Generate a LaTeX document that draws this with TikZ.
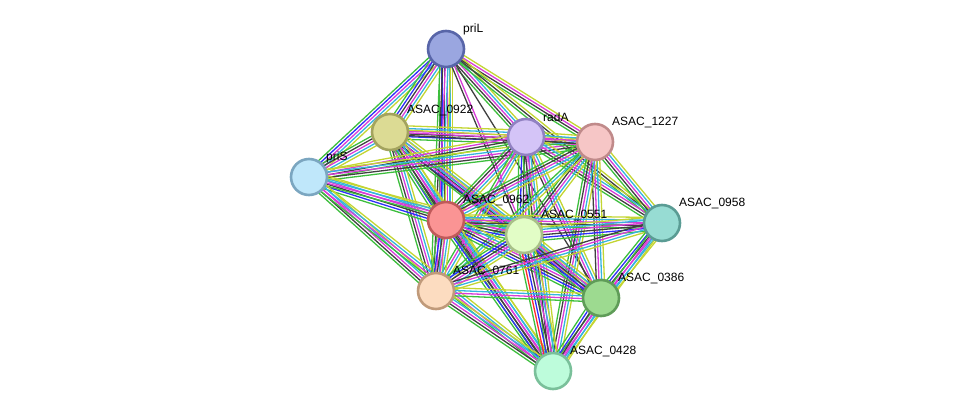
\documentclass[tikz,border=0pt]{standalone}
\usepackage{fontspec}
\setmainfont{Liberation Sans}
\usetikzlibrary{calc,backgrounds}

\definecolor{cG}{HTML}{3DBE3D}
\definecolor{cR}{HTML}{FF2A2A}
\definecolor{cB}{HTML}{2E2EFA}
\definecolor{cK}{HTML}{404040}
\definecolor{cM}{HTML}{D83CD8}
\definecolor{cC}{HTML}{35B4DE}
\definecolor{cY}{HTML}{C3D532}

\definecolor{priLfill}{HTML}{9AA6E0}  \definecolor{priLline}{HTML}{5865A8}
\definecolor{a0922fill}{HTML}{DCDB94} \definecolor{a0922line}{HTML}{A3A35E}
\definecolor{radAfill}{HTML}{D4C4F7}  \definecolor{radAline}{HTML}{9181C2}
\definecolor{a1227fill}{HTML}{F6C6C6} \definecolor{a1227line}{HTML}{C08A8A}
\definecolor{priSfill}{HTML}{BFE7FA}  \definecolor{priSline}{HTML}{7BA6C0}
\definecolor{a0962fill}{HTML}{FA9494} \definecolor{a0962line}{HTML}{C05A5A}
\definecolor{a0551fill}{HTML}{E2FDC6} \definecolor{a0551line}{HTML}{A8C088}
\definecolor{a0958fill}{HTML}{97DCD3} \definecolor{a0958line}{HTML}{5A9C94}
\definecolor{a0761fill}{HTML}{FCDCC0} \definecolor{a0761line}{HTML}{C09A7A}
\definecolor{a0386fill}{HTML}{9DDA90} \definecolor{a0386line}{HTML}{5F9C58}
\definecolor{a0428fill}{HTML}{BDFCDB} \definecolor{a0428line}{HTML}{7AC09A}

% parallel coloured lines between two node centres
\newcommand{\chanlink}[3]{%
  \xdef\nch{0}%
  \foreach \c in {#3}{\pgfmathtruncatemacro\tmp{\nch+1}\xdef\nch{\tmp}}%
  \foreach \c [count=\i] in {#3}{%
    \pgfmathsetmacro\off{(\i-(\nch+1)/2)*2.7}%
    \draw[chan,\c] ($(#1.center)!\off pt!90:(#2.center)$) -- ($(#2.center)!\off pt!-90:(#1.center)$);}}

\begin{document}
\begin{tikzpicture}[x=1pt,y=-1pt,
  prot/.style={circle,minimum size=36pt,inner sep=0pt,line width=2.6pt,fill=#1fill,draw=#1line},
  lbl/.style={anchor=west,inner sep=0pt,font=\fontsize{12}{14}\selectfont},
  chan/.style={line width=1.3pt}]
	\useasboundingbox (0,0) rectangle (976,417);
	
	\node[prot=priL] (priL) at (446, 49) {};
	\node[prot=a0922] (a0922) at (390,132) {};
	\node[prot=radA] (radA) at (526,137) {};
	\node[prot=a1227] (a1227) at (595,142) {};
	\node[prot=priS] (priS) at (309,177) {};
	\node[prot=a0962] (a0962) at (446,220) {};
	\node[prot=a0551] (a0551) at (524,235) {};
	\node[prot=a0958] (a0958) at (662,223) {};
	\node[prot=a0761] (a0761) at (436,291) {};
	\node[prot=a0386] (a0386) at (601,298) {};
	\node[prot=a0428] (a0428) at (553,371) {};
	
	\node[lbl] (priL-t)  at ($(priL)+(17,-19.5)$)  {priL};
	\node[lbl] (a0922-t) at ($(a0922)+(17,-21.5)$) {ASAC\_0922};
	\node[lbl] (radA-t)  at ($(radA)+(17,-19.5)$)  {radA};
	\node[lbl] (a1227-t) at ($(a1227)+(17,-19.5)$) {ASAC\_1227};
	\node[lbl] (priS-t)  at ($(priS)+(17,-19.5)$)  {priS};
	\node[lbl] (a0962-t) at ($(a0962)+(17,-19.5)$) {ASAC\_0962};
	\node[lbl] (a0551-t) at ($(a0551)+(17,-19.5)$) {ASAC\_0551};
	\node[lbl] (a0958-t) at ($(a0958)+(17,-19.5)$) {ASAC\_0958};
	\node[lbl] (a0761-t) at ($(a0761)+(17,-19.5)$) {ASAC\_0761};
	\node[lbl] (a0386-t) at ($(a0386)+(17,-19.5)$) {ASAC\_0386};
	\node[lbl] (a0428-t) at ($(a0428)+(17,-19.5)$) {ASAC\_0428};
	
	\begin{pgfonlayer}{background}
		\chanlink{priL}{priS}{cG,cB,cM,cC,cY}
		\chanlink{priL}{a0922}{cG,cB,cK,cM,cC,cY}
		\chanlink{priL}{a0962}{cG,cB,cK,cM,cC,cY}
		\chanlink{priL}{a0761}{cG,cK,cM,cC,cY}
		\chanlink{priL}{radA}{cG,cK,cM,cC,cY}
		\chanlink{priL}{a1227}{cG,cK,cM,cY}
		\chanlink{priL}{a0958}{cG,cK,cY}
		\chanlink{priL}{a0551}{cK,cM}
		\chanlink{priL}{a0386}{cK}
		\chanlink{a0922}{priS}{cG,cK,cM,cC,cY}
		\chanlink{a0922}{radA}{cG,cB,cK,cM,cC,cY}
		\chanlink{a0922}{a1227}{cK,cM,cY}
		\chanlink{a0922}{a0962}{cG,cB,cK,cM,cC,cY}
		\chanlink{a0922}{a0761}{cG,cK,cM,cC,cY}
		\chanlink{a0922}{a0551}{cG,cB,cK,cM,cC,cY}
		\chanlink{a0922}{a0386}{cK,cM,cC,cY}
		\chanlink{a0922}{a0428}{cG,cK,cM,cC,cY}
		\chanlink{priS}{radA}{cG,cK,cM,cY}
		\chanlink{priS}{a1227}{cG,cK,cM,cC,cY}
		\chanlink{priS}{a0962}{cG,cB,cK,cM,cC,cY}
		\chanlink{priS}{a0551}{cG,cM,cC,cY}
		\chanlink{priS}{a0761}{cG,cK,cM,cC,cY}
		\chanlink{priS}{a0428}{cG,cM,cC,cY}
		\chanlink{radA}{a1227}{cG,cK,cM,cC,cY}
		\chanlink{radA}{a0962}{cG,cK,cM,cC,cY}
		\chanlink{radA}{a0551}{cG,cB,cK,cM,cC,cY}
		\chanlink{radA}{a0958}{cG,cK,cM,cC,cY}
		\chanlink{radA}{a0761}{cG,cM,cC,cY}
		\chanlink{radA}{a0386}{cK,cM,cC,cY}
		\chanlink{radA}{a0428}{cG,cK,cM,cC,cY}
		\chanlink{a1227}{a0962}{cG,cK,cM,cC,cY}
		\chanlink{a1227}{a0551}{cG,cK,cM,cC,cY}
		\chanlink{a1227}{a0958}{cG,cK,cM,cC,cY}
		\chanlink{a1227}{a0761}{cG,cC,cY}
		\chanlink{a1227}{a0386}{cK,cM,cC,cY}
		\chanlink{a1227}{a0428}{cG,cK,cM,cC,cY}
		\chanlink{a0962}{a0551}{cG,cB,cK,cM,cC,cY}
		\chanlink{a0962}{a0958}{cG,cK,cM,cC,cY}
		\chanlink{a0962}{a0761}{cG,cB,cK,cM,cC,cY}
		\chanlink{a0962}{a0386}{cG,cB,cK,cM,cC,cY}
		\chanlink{a0962}{a0428}{cG,cB,cK,cM,cC,cY}
		\chanlink{a0551}{a0958}{cG,cB,cK,cM,cC,cY}
		\chanlink{a0551}{a0761}{cG,cB,cK,cM,cC,cY}
		\chanlink{a0551}{a0386}{cG,cB,cK,cM,cC,cY}
		\chanlink{a0551}{a0428}{cG,cR,cB,cK,cM,cC,cY}
		\chanlink{a0958}{a0761}{cK,cM,cC,cY}
		\chanlink{a0958}{a0386}{cG,cB,cK,cM,cC,cY}
		\chanlink{a0958}{a0428}{cG,cM,cC,cY}
		\chanlink{a0761}{a0386}{cG,cM,cC,cY}
		\chanlink{a0761}{a0428}{cG,cK,cM,cC,cY}
		\chanlink{a0386}{a0428}{cG,cB,cK,cM,cC,cY}
	\end{pgfonlayer}
\end{tikzpicture}
\end{document}
